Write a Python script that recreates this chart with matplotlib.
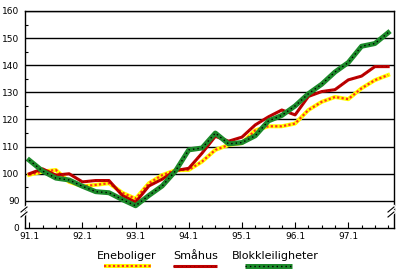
import numpy as np
import matplotlib.pyplot as plt
from matplotlib.lines import Line2D

# quarterly index, 91.1 - 97.4
quarters = [f"{y}.{q}" for y in range(91, 98) for q in range(1, 5)]
year_labels = ["91.1", "92.1", "93.1", "94.1", "95.1", "96.1", "97.1"]

eneboliger = [99.6, 100.8, 101.4, 97.0, 95.4, 95.9, 96.5, 93.0, 90.8, 96.5,
              99.5, 101.3, 101.4, 104.5, 108.8, 110.6, 111.3, 116.0, 117.5, 117.5,
              118.5, 123.5, 126.5, 128.3, 127.5, 131.5, 134.5, 136.4]
smahus = [100.0, 101.8, 99.5, 100.0, 97.0, 97.5, 97.5, 92.0, 89.5, 95.5,
          98.0, 101.2, 102.0, 107.6, 113.8, 112.0, 113.5, 118.0, 121.0, 123.5,
          121.7, 128.5, 130.3, 131.0, 134.6, 136.0, 139.5, 139.5]
blokk = [105.0, 101.0, 98.4, 97.7, 95.4, 93.4, 93.0, 90.5, 88.2, 92.0,
         95.5, 101.0, 108.8, 109.5, 115.0, 111.0, 111.5, 114.0, 119.5, 121.5,
         125.0, 129.5, 133.0, 137.5, 141.0, 147.0, 148.0, 152.0]

x = np.arange(len(quarters))

# line styles: (colour, width, dash) layers per series
ene_style = [("#ffff00", 2.9, "-"), ("#ff3020", 1.6, (0, (1, 1)))]
sma_style = [("#bf0000", 2.2, "-"), ("#700000", 0.6, (0, (1, 4)))]
blk_style = [("#1c8a2a", 3.6, "-"), ("black", 1.0, (0, (1, 2.2)))]

fig = plt.figure(figsize=(4, 2.71), dpi=100)
ax = fig.add_axes([25 / 400, 1 - 228 / 271, 369 / 400, 217 / 271])

for data, style in [(eneboliger, ene_style), (smahus, sma_style), (blokk, blk_style)]:
    for col, lw, ls in style:
        ax.plot(x, data, color=col, lw=lw, ls=ls)

ax.set_xlim(-0.32, 27.44)
ax.set_ylim(80, 160)

for v in range(90, 161, 10):
    ax.axhline(v, color="black", lw=1.0, zorder=0)

ax.set_yticks([80] + list(range(90, 161, 10)))
ax.set_yticklabels(["0"] + [str(v) for v in range(90, 161, 10)])
ax.set_yticks(list(range(95, 160, 10)), minor=True)
ax.tick_params(axis="y", which="major", length=0, pad=4, labelsize=6.5)
ax.tick_params(axis="y", which="minor", direction="in", length=2.5, width=0.8)

ax.set_xticks(x[::4])
ax.set_xticklabels(year_labels)
ax.set_xticks(x, minor=True)
ax.tick_params(axis="x", which="major", direction="in", length=4, width=0.8,
               pad=3, labelsize=6.5)
ax.tick_params(axis="x", which="minor", direction="in", length=2, width=0.8)

for s in ax.spines.values():
    s.set_linewidth(1.0)

# axis break marks
def px(xp, yp):
    return xp / 400, 1 - yp / 271

for x0, x1 in [(21, 27), (388, 394)]:
    for yb in [212, 217]:
        (a, b), (c, d) = px(x0, yb), px(x1, yb - 5)
        fig.add_artist(Line2D([a, c], [b, d], color="white", lw=2.5,
                              transform=fig.transFigure))
        fig.add_artist(Line2D([a, c], [b, d], color="black", lw=0.8,
                              transform=fig.transFigure))

# legend: text above, line sample below
legend = [("Eneboliger", 127, 104, 151, ene_style),
          ("Småhus", 196, 173, 217, sma_style),
          ("Blokkleiligheter", 275, 245, 292, blk_style)]
for name, cx, l0, l1, style in legend:
    tx, ty = px(cx, 256)
    fig.text(tx, ty, name, ha="center", va="center", fontsize=8)
    (a, b), (c, d) = px(l0, 265.5), px(l1, 265.5)
    for col, lw, ls in style:
        fig.add_artist(Line2D([a, c], [b, d], color=col, lw=lw, ls=ls,
                              solid_capstyle="butt", transform=fig.transFigure))

fig.savefig("out.png", dpi=100)
